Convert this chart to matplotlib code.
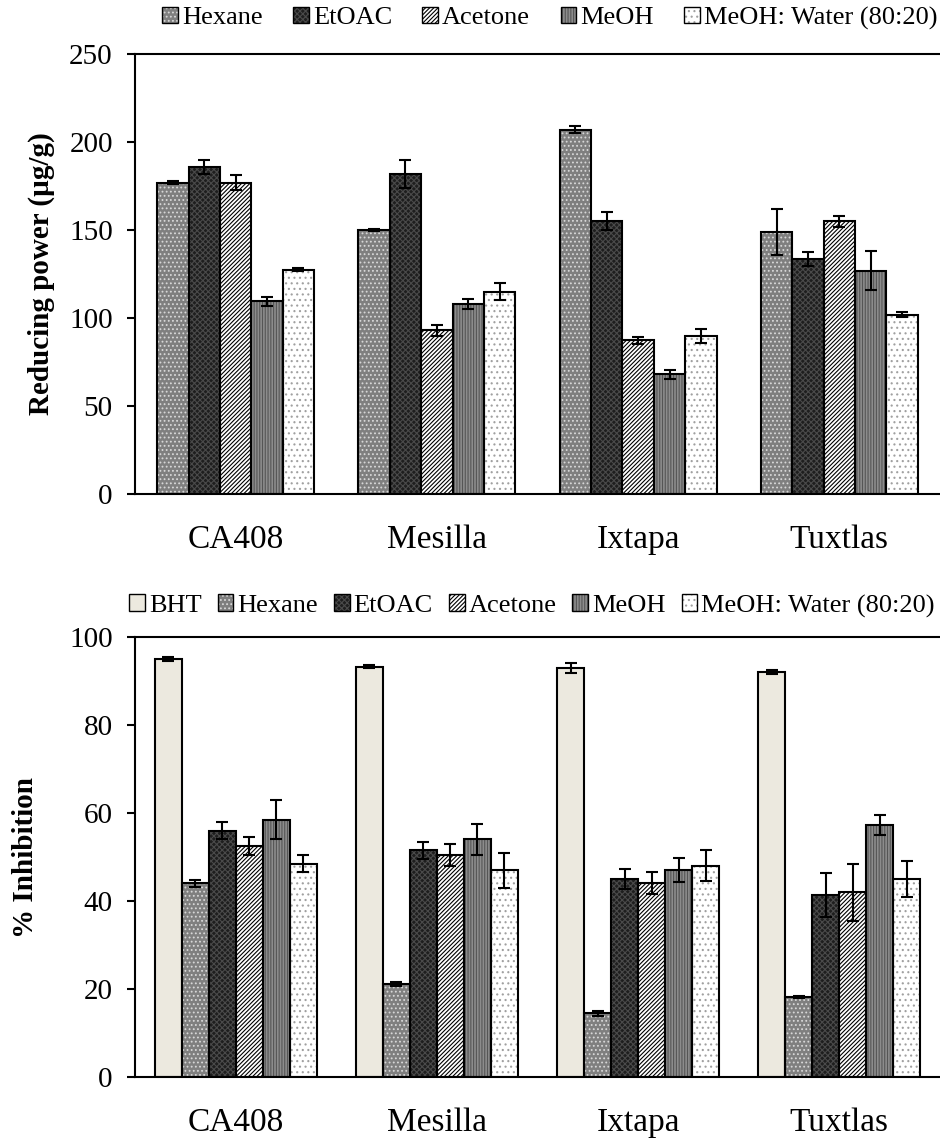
import numpy as np
import matplotlib
matplotlib.use("Agg")
import matplotlib.pyplot as plt
from matplotlib.patches import Patch
from matplotlib.legend_handler import HandlerTuple

plt.rcParams['font.family'] = ['Liberation Serif', 'DejaVu Serif']
plt.rcParams['hatch.linewidth'] = 0.8

sites = ["CA408", "Mesilla", "Ixtapa", "Tuxtlas"]

# reducing power (ug/g)
rp_series = ["Hexane", "EtOAC", "Acetone", "MeOH", "MeOH: Water (80:20)"]
rp_vals = [
    [177, 150, 207, 149],
    [186, 182, 155, 133.5],
    [177, 93, 87.5, 155],
    [109.5, 108, 68, 127],
    [127.5, 115, 90, 102],
]
rp_err = [
    [0.7, 0.7, 2.0, 13],
    [4, 8, 5, 4],
    [4, 3, 2, 3],
    [2.5, 3, 2.5, 11],
    [0.7, 5, 4, 1.5],
]

# % inhibition
inh_series = ["BHT", "Hexane", "EtOAC", "Acetone", "MeOH", "MeOH: Water (80:20)"]
inh_vals = [
    [95, 93.3, 93, 92],
    [44, 21.2, 14.5, 18.2],
    [56, 51.5, 45, 41.3],
    [52.5, 50.5, 44, 42],
    [58.5, 54, 47, 57.2],
    [48.5, 47, 48, 45],
]
inh_err = [
    [0.4, 0.4, 1.2, 0.4],
    [0.8, 0.5, 0.6, 0.3],
    [2, 2, 2.3, 5],
    [2, 2.5, 2.5, 6.5],
    [4.5, 3.5, 2.7, 2.3],
    [2, 4, 3.5, 4],
]

# face, hatch, hatch colour
styles = {
    "BHT": ("#ece9df", None, "#ece9df"),
    "Hexane": ("#7f7f7f", "....", "#d8d8d8"),
    "EtOAC": ("#1e1e1e", "xxxxxx", "#4a4a4a"),
    "Acetone": ("white", "////////", "black"),
    "MeOH": ("#8c8c8c", "||||||", "#555555"),
    "MeOH: Water (80:20)": ("white", "...", "#a0a0a0"),
}


def draw(ax, names, vals, errs, width):
    x = np.arange(len(sites))
    n = len(names)
    handles = []
    for i, name in enumerate(names):
        face, hatch, hc = styles[name]
        off = (i - (n - 1) / 2) * width
        ax.bar(x + off, vals[i], width, color=face, hatch=hatch,
               edgecolor=hc, linewidth=0, zorder=2)
        ax.bar(x + off, vals[i], width, fill=False, edgecolor='black',
               linewidth=1.5, yerr=errs[i], capsize=4.5,
               error_kw=dict(elinewidth=1.5, capthick=1.5, ecolor='black'),
               zorder=3)
        h1 = Patch(facecolor=face, hatch=hatch, edgecolor=hc, linewidth=0)
        h2 = Patch(fill=False, edgecolor='black', linewidth=1.0)
        handles.append((h1, h2))
    ax.set_xlim(-0.5, len(sites) - 0.5)
    ax.set_xticks(x)
    ax.set_xticklabels(sites, fontsize=24)
    ax.tick_params(axis='x', length=0, pad=22)
    ax.tick_params(axis='y', labelsize=21, length=6, width=1.5,
                   direction='out', pad=10)
    ax.spines['right'].set_visible(False)
    for s in ['left', 'bottom', 'top']:
        ax.spines[s].set_linewidth(1.5)
    return handles


fig = plt.figure(figsize=(9.4, 11.38), dpi=100)

ax1 = fig.add_axes([0.1436, 0.5659, 0.8564, 0.3866])
h = draw(ax1, rp_series, rp_vals, rp_err, 0.156)
ax1.set_ylim(0, 250)
ax1.set_yticks([0, 50, 100, 150, 200, 250])
ax1.set_ylabel("Reducing power (µg/g)", fontsize=21, fontweight='bold', labelpad=10)
fig.legend(h, rp_series, loc='center', bbox_to_anchor=(0.585, 0.984), ncol=5,
           frameon=False, fontsize=19, handler_map={tuple: HandlerTuple(ndivide=1)},
           handlelength=0.6, handleheight=0.6, handletextpad=0.15, columnspacing=1.15)

ax2 = fig.add_axes([0.1436, 0.0536, 0.8564, 0.3866])
h = draw(ax2, inh_series, inh_vals, inh_err, 0.134)
ax2.set_ylim(0, 100)
ax2.set_yticks([0, 20, 40, 60, 80, 100])
ax2.set_ylabel("% Inhibition", fontsize=21, fontweight='bold', labelpad=22)
fig.legend(h, inh_series, loc='center', bbox_to_anchor=(0.566, 0.4675), ncol=6,
           frameon=False, fontsize=19, handler_map={tuple: HandlerTuple(ndivide=1)},
           handlelength=0.6, handleheight=0.6, handletextpad=0.15, columnspacing=0.6)

fig.savefig("out.png", dpi=100)
